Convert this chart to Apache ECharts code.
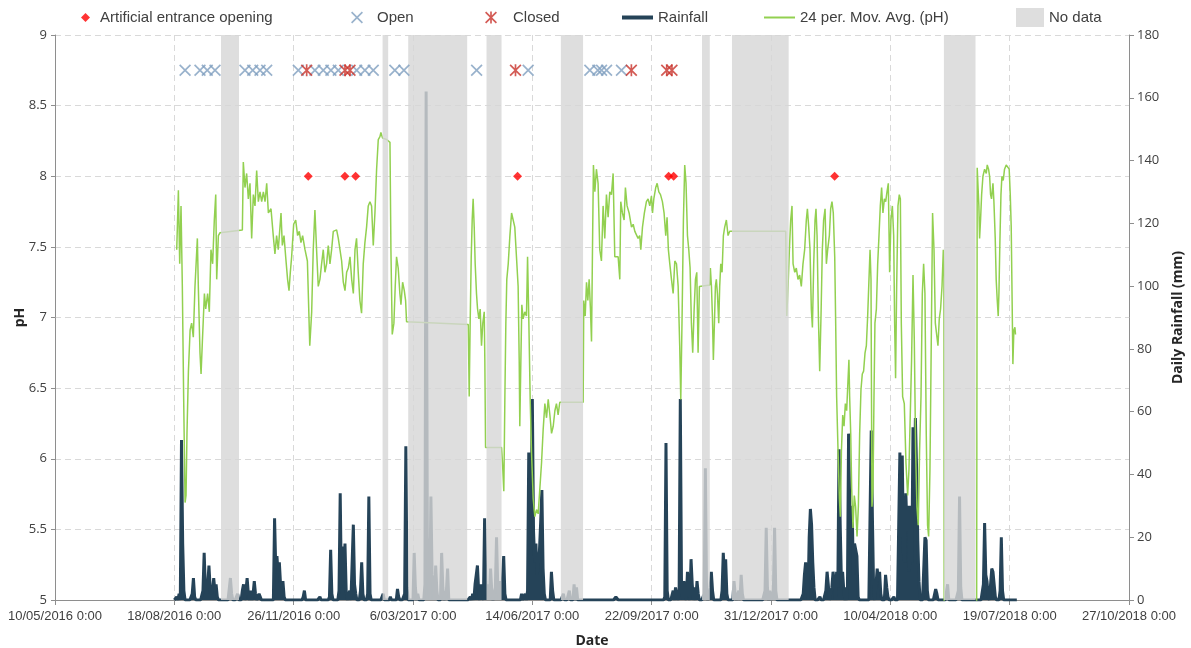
<!DOCTYPE html>
<html>
<head>
<meta charset="utf-8">
<title>pH and daily rainfall</title>
<script src="https://cdn.jsdelivr.net/npm/echarts@6.0.0/dist/echarts.min.js"></script>
<style>
  html, body { margin: 0; padding: 0; background: #fff; }
  #chart { width: 1191px; height: 648px; }
</style>
</head>
<body>
<div id="chart"></div>
<script>
// x values are days counted from 10/05/2016 0:00
const xTickLabels = ['10/05/2016 0:00', '18/08/2016 0:00', '26/11/2016 0:00', '6/03/2017 0:00',
  '14/06/2017 0:00', '22/09/2017 0:00', '31/12/2017 0:00', '10/04/2018 0:00',
  '19/07/2018 0:00', '27/10/2018 0:00'];

// 24 per. moving average of pH, [day, pH]
const phPoints = [
  [102.0,7.48],[103.4,7.90],[104.5,7.38],[105.6,7.79],[106.7,7.22],[107.8,6.44],[109.0,5.69],[109.8,5.74],
  [110.6,6.18],[111.8,6.62],[113.2,6.91],[114.5,6.96],[115.9,6.86],[117.3,7.22],[119.3,7.56],[120.1,7.22],
  [121.5,6.75],[122.4,6.60],[123.5,6.83],[125.2,7.17],[126.3,7.06],[127.9,7.17],[129.3,7.04],[130.7,7.48],
  [132.1,7.38],[133.5,7.69],[134.7,7.87],[135.5,7.27],[136.9,7.58],[138.3,7.60],
  [157.0,7.62],[157.8,8.10],[159.2,7.92],[160.6,8.02],[162.0,7.84],[163.4,7.95],[164.8,7.56],[166.2,7.87],
  [167.6,7.79],[169.0,8.04],[170.4,7.82],[171.8,7.89],[173.2,7.82],[174.6,7.89],[176.0,7.82],[177.4,7.95],
  [178.8,7.74],[181.0,7.77],[182.9,7.58],[184.3,7.45],[185.7,7.58],[187.1,7.48],[189.4,7.74],[190.5,7.51],
  [191.9,7.58],[193.3,7.43],[194.9,7.27],[196.1,7.19],[197.2,7.32],[198.3,7.43],[200.0,7.66],[201.7,7.69],
  [203.3,7.58],[204.7,7.61],[206.1,7.53],[207.5,7.58],[209.5,7.48],[211.5,7.40],[213.5,6.80],
  [215.1,7.04],[216.4,7.48],[217.8,7.76],[219.2,7.48],[220.6,7.22],[222.0,7.27],[223.4,7.38],[224.8,7.48],
  [226.2,7.32],[227.6,7.38],[229.0,7.51],[230.4,7.38],[231.8,7.48],[233.2,7.61],[234.6,7.62],[236.0,7.62],
  [237.4,7.56],[238.8,7.48],[240.2,7.40],[241.6,7.25],[243.0,7.19],[244.4,7.32],[245.8,7.35],[247.2,7.43],
  [248.6,7.27],[250.0,7.17],[251.4,7.48],[252.7,7.56],[254.1,7.32],[255.5,7.12],[256.9,7.03],[258.3,7.38],
  [259.7,7.53],[261.1,7.64],[262.5,7.79],[263.9,7.82],[265.3,7.79],[266.7,7.51],[268.1,7.74],[269.5,8.05],
  [270.9,8.26],[272.3,8.28],[273.1,8.31],[274.5,8.27],[277.9,8.26],[280.7,8.24],[281.5,7.48],[282.6,6.88],
  [284.0,6.96],[285.1,7.22],[286.2,7.43],[287.6,7.35],[289.0,7.17],[289.9,7.09],[291.3,7.25],[292.7,7.19],
  [293.8,7.12],[294.6,6.97],
  [346.3,6.95],[347.1,6.44],[347.9,6.96],[348.8,7.43],[349.6,7.69],[350.4,7.84],[351.3,7.64],[352.1,7.38],
  [353.2,7.17],[354.1,7.06],[355.2,6.99],[356.3,7.06],[357.4,6.80],[358.5,6.96],[359.7,7.04],[360.2,6.70],
  [360.8,6.08],
  [374.2,6.08],[375.0,5.97],[376.1,5.77],[377.0,6.44],[377.8,6.96],[378.6,7.27],[379.8,7.38],[381.2,7.58],
  [382.6,7.74],[383.9,7.74],[385.3,7.64],[386.7,7.43],[388.1,7.22],[389.0,6.70],[389.5,6.23],[390.4,6.70],
  [391.2,7.09],[392.3,6.99],[393.7,7.04],[395.1,7.01],[396.0,7.43],[397.1,6.96],[398.2,6.42],[399.3,6.05],
  [400.7,5.72],[402.1,5.59],[403.5,5.64],[404.9,5.61],[406.3,5.79],[407.7,5.97],[409.1,6.21],[410.5,6.39],
  [411.9,6.29],[413.3,6.42],[414.7,6.31],[416.1,6.18],[417.5,6.23],[418.9,6.34],[420.2,6.39],[421.6,6.31],
  [423.0,6.40],
  [442.6,6.40],[443.1,7.12],[444.3,7.01],[445.4,7.25],[446.5,7.12],[447.6,7.27],[448.7,7.06],[449.6,6.83],
  [450.4,7.48],[451.2,8.08],[452.4,7.89],[453.7,8.05],[455.1,7.95],[456.5,7.48],[457.9,7.40],[459.3,7.79],
  [460.7,7.56],[462.1,7.87],[463.5,7.71],[464.9,7.89],[466.3,7.87],[467.7,8.02],[469.1,7.43],[470.5,7.43],
  [471.9,7.43],[473.3,7.27],[474.1,7.82],[475.5,7.74],[476.9,7.69],[478.0,7.92],[479.4,7.79],[481.1,7.74],
  [483.1,7.64],[484.5,7.66],[485.9,7.61],[487.3,7.61],[488.6,7.56],[490.0,7.58],[490.9,7.48],[492.3,7.64],
  [493.9,7.74],[495.6,7.82],[497.0,7.84],[498.4,7.79],[499.8,7.86],[500.7,7.74],[501.8,7.84],[503.4,7.92],
  [504.6,7.95],[506.0,7.89],[507.4,7.87],[509.0,7.82],[510.4,7.74],[511.8,7.58],[512.9,7.71],[514.0,7.48],
  [515.2,7.38],[516.6,7.27],[518.0,7.17],[519.4,7.40],[520.8,7.38],[522.2,7.22],[523.5,6.80],[524.4,6.42],
  [525.5,7.01],[526.6,7.69],[527.7,8.08],[528.8,7.95],[530.0,7.58],[531.1,7.48],[532.2,7.35],[533.3,6.96],
  [534.4,6.75],[535.6,7.06],[536.7,7.27],[537.8,7.32],[538.9,6.75],[540.0,7.22],[541.1,7.23],
  [548.7,7.23],[549.2,7.35],[550.1,7.22],[550.9,7.01],[551.7,6.70],[552.6,6.96],[553.4,7.22],[554.2,7.27],
  [555.1,7.17],[556.2,6.96],[557.0,7.22],[557.9,7.38],[559.0,7.32],[560.1,7.58],[561.2,7.64],[562.6,7.69],
  [564.0,7.58],[565.4,7.61],[566.8,7.60],
  [612.3,7.61],[613.2,7.01],[614.3,7.22],[615.4,7.48],[616.5,7.69],[617.6,7.79],[618.5,7.38],[619.9,7.32],
  [621.2,7.35],[622.6,7.27],[624.0,7.30],[625.4,7.22],[626.8,7.38],[628.2,7.48],[629.6,7.69],[630.5,7.77],
  [631.6,7.64],[632.7,7.48],[633.8,7.06],[634.7,6.93],[635.8,7.38],[636.9,7.69],[637.7,7.77],[638.6,7.58],
  [639.7,7.01],[640.8,6.62],[641.9,7.01],[643.0,7.48],[644.1,7.69],[645.3,7.77],[646.4,7.38],[647.5,7.48],
  [648.9,7.58],[650.0,7.77],[651.1,7.82],[652.2,7.74],[653.4,7.43],[654.2,6.96],[655.0,6.44],[656.2,6.05],
  [657.3,5.72],[658.1,5.59],[659.0,6.05],[660.1,6.31],[661.2,6.23],[662.3,6.39],[663.4,6.34],[664.5,6.55],
  [665.3,6.70],[665.9,6.44],[666.8,6.18],[667.6,5.79],[668.7,5.51],[669.8,5.74],[670.9,5.66],[672.1,5.45],
  [673.2,5.66],[674.3,6.18],[675.4,6.49],[676.5,6.60],[677.6,6.62],[678.8,6.75],[679.9,6.80],[681.0,7.01],
  [682.1,7.27],[683.0,7.48],[683.8,7.27],[684.6,5.66],[685.5,5.79],[686.3,6.44],[687.1,6.96],[688.3,7.06],
  [689.4,7.38],[690.5,7.58],[691.6,7.79],[692.7,7.92],[693.8,7.74],[695.0,7.84],[696.1,7.82],[697.2,7.89],
  [698.3,7.95],[699.4,7.32],[700.5,7.69],[701.7,7.79],[702.8,7.58],[703.6,6.96],[704.4,6.57],[705.3,7.22],
  [706.4,7.79],[707.5,7.87],[708.4,7.84],[709.2,6.96],[710.3,6.44],[711.7,6.39],[713.1,5.97],[714.5,5.74],
  [715.6,5.92],[716.7,6.31],[717.8,6.70],[719.0,7.30],[720.1,6.83],[721.2,6.05],[722.3,5.66],[723.4,5.53],
  [724.5,6.05],[725.7,6.44],[726.8,7.17],[727.9,7.38],[729.0,7.17],[730.1,6.18],[731.2,5.53],[732.1,5.45],
  [733.2,5.92],[734.3,6.83],[735.4,7.74],[736.6,7.48],[737.7,6.96],[738.8,6.88],[739.9,6.80],[741.0,6.99],
  [742.1,7.06],[743.3,7.22],[744.4,7.48],[744.9,7.35],[745.5,0],[771.6,0],
  [772.8,8.06],[773.4,8.05],[774.2,7.79],[774.8,7.56],[775.6,7.69],[776.5,7.87],[777.6,8.00],[779.0,8.05],
  [780.4,8.02],[781.2,8.08],[782.3,8.05],[783.2,8.00],[784.0,7.87],[784.8,7.84],[786.0,7.95],[786.8,7.82],
  [787.9,7.56],[788.7,7.27],[789.6,7.12],[790.4,7.01],[791.0,7.17],[791.8,7.53],[792.7,7.87],[793.5,8.00],
  [794.6,7.97],[795.7,8.05],[797.1,8.08],[798.5,8.09],[799.6,8.05],[800.5,7.87],[801.3,7.64],[802.1,7.09],
  [802.7,6.67],[803.5,6.91],[804.4,6.93],[804.9,6.88]
];

// daily rainfall (mm); days not listed had no rain
const rainFirstDay = 100;
const rainLastDay = 806;
const rainDays = [102,104,106,107,108,115,116,117,124,125,126,127,128,129,130,131,132,133,134,135,136,
  147,148,153,157,158,160,161,162,164,166,167,168,171,172,184,185,186,187,188,189,190,191,192,208,209,
  222,230,231,232,238,239,240,241,242,243,244,247,250,251,252,256,257,258,262,263,264,275,281,287,288,
  293,294,295,301,302,304,310,311,312,313,315,316,317,319,320,324,325,328,329,
  348,350,352,353,354,355,357,358,360,361,363,365,366,369,370,371,373,376,377,391,394,
  396,397,398,399,400,401,402,403,404,405,406,407,408,409,410,416,417,426,431,435,437,470,471,
  511,512,513,518,520,521,523,524,525,527,528,530,531,533,534,536,538,539,544,545,546,549,550,551,
  559,560,561,562,563,569,570,573,575,576,595,596,597,599,602,603,604,
  627,628,629,630,632,633,634,635,636,641,646,647,648,651,652,653,655,656,657,658,659,660,661,663,
  665,666,667,668,669,670,671,672,673,684,685,686,689,690,691,692,696,697,698,703,
  708,709,710,711,712,713,714,715,716,717,718,719,720,721,722,723,724,729,730,731,738,739,
  748,757,758,759,778,779,780,781,782,785,786,787,788,792,793,794];
const rainMm = [1,2,51,18,3,2,7,1,3,15,4,2,5,11,4,2,3,7,3,5,1,
  7,2,2,3,5,3,7,2,3,2,6,2,2,1,26,10,14,8,12,5,4,6,1,1,3,
  1,1,16,2,3,34,4,17,6,18,3,3,24,5,2,3,12,2,2,33,2,2,1,3.5,1,
  2,49,4,15,4,2,5,162,20,8,33,8,5,11,3,15,4,3,10,
  1,2,5,8,11,3,5,2,26,6,5,10,3,4,20,5,6,14,2,2,2,
  3,47,28,30,64,22,12,18,8,11,16,25,35,10,2,9,3,2,3,5,4,1,1,
  1,50,3,3,4,2,2,64,5,6,2,9,4,13,5,4,6,2,2,42,3,4,9,3,
  3,15,8,13,2,6,2,3,8,2,3,23,4,3,3,23,3,
  2,8,12,6,20,29,24,12,4,1,3,9,5,4,9,6,9,4,48,24,6,9,3,4,
  53,30,20,30,8,18,18,14,1,54,26,3,10,6,9,2,8,4,1,1,
  47,20,46,15,12,34,22,30,9,30,12,55,30,58,42,19,6,20,19,3,3.5,2,
  5,3,33,4,5,24.5,8,6,1,10,9,9,1,3,20,3];

// no-data periods, start and end day
const noDataStart = [139.1, 274.5, 296.0, 361.6, 423.9, 542.2, 567.3, 744.9];
const noDataEnd = [154.2, 279.2, 345.4, 374.2, 442.5, 548.7, 614.8, 771.4];

// entrance events
const openDays = [109.0, 121.5, 127.6, 134.1, 159.2, 165.7, 171.8, 177.4, 203.9, 217.8, 224.8, 231.2,
  237.4, 252.8, 259.7, 266.7, 284.8, 292.4, 353.3, 396.5, 448.2, 454.9, 458.0, 462.2, 474.7];
const closedDays = [210.9, 243.0, 247.2, 385.9, 483.0, 512.6, 517.0];
const openingDays = [212.2, 242.9, 251.9, 387.6, 514.2, 518.4, 653.3];
const eventLevel = 8.75;
const openingLevel = 8;

const rainByDay = {};
rainDays.forEach((d, i) => { rainByDay[d] = rainMm[i]; });
const rainSeries = [];
for (let d = rainFirstDay; d <= rainLastDay; d++) {
  rainSeries.push([d, rainByDay[d] || 0]);
}

const xPath = 'path://M1,0L5,4L9,0L10,1L6,5L10,9L9,10L5,6L1,10L0,9L4,5L0,1Z';
const starPath = 'path://M1,0L5,4L9,0L10,1L6,5L10,9L9,10L5,6L1,10L0,9L4,5L0,1ZM4.3,0L5.7,0L5.7,10L4.3,10Z';

const textColor = '#404040';
const axisColor = '#8e8e8e';

function legendAt(left, top, name, icon, w, h, gap) {
  return {
    left: left, top: top, padding: 0, selectedMode: false,
    itemWidth: w, itemHeight: h, symbolKeepAspect: false,
    textStyle: {
      fontFamily: 'Liberation Sans', fontSize: 15, color: textColor,
      padding: [0, 0, 0, gap]
    },
    data: [{ name: name, icon: icon }]
  };
}

const chart = echarts.init(document.getElementById('chart'));

chart.setOption({
  animation: false,
  backgroundColor: '#fff',
  grid: { left: 55, right: 62, top: 35, bottom: 48, containLabel: false, outerBoundsMode: 'none' },
  legend: [
    legendAt(81, 10, 'Artificial entrance opening', 'diamond', 9, 9, 5),
    legendAt(351, 10, 'Open', xPath, 12, 12, 9),
    legendAt(485, 10, 'Closed', starPath, 12, 12, 11),
    legendAt(622, 10, 'Rainfall', 'rect', 31, 4, 0),
    legendAt(764, 10, '24 per. Mov. Avg. (pH)', 'rect', 31, 2, 0),
    legendAt(1016, 8, 'No data', 'rect', 28, 19, 0)
  ],
  xAxis: {
    type: 'value', min: 0, max: 900, interval: 100,
    name: 'Date', nameLocation: 'middle', nameGap: 34,
    nameTextStyle: { fontFamily: 'Open Sans', fontWeight: 'bold', fontSize: 14, color: '#262626' },
    axisLine: { lineStyle: { color: axisColor } },
    axisTick: { show: true, length: 5, lineStyle: { color: axisColor } },
    axisLabel: {
      margin: 10, color: textColor, fontFamily: 'Liberation Sans', fontSize: 13,
      showMinLabel: true, showMaxLabel: true,
      formatter: (v) => xTickLabels[Math.round(v / 100)]
    },
    splitLine: { show: true, lineStyle: { color: '#d9d9d9', type: [6, 4] } }
  },
  yAxis: [
    {
      type: 'value', min: 5, max: 9, interval: 0.5,
      name: 'pH', nameLocation: 'middle', nameGap: 28, nameRotate: 90, nameMoveOverlap: false,
      nameTextStyle: { fontFamily: 'Open Sans', fontWeight: 'bold', fontSize: 14, color: '#262626' },
      axisLine: { show: true, lineStyle: { color: axisColor } },
      axisTick: { show: true, length: 4, lineStyle: { color: axisColor } },
      axisLabel: { margin: 8, color: textColor, fontFamily: 'Open Sans', fontSize: 13 },
      splitLine: { show: true, lineStyle: { color: '#d9d9d9', type: [6, 4] } }
    },
    {
      type: 'value', min: 0, max: 180, interval: 20, position: 'right',
      name: 'Daily Rainfall (mm)', nameLocation: 'middle', nameGap: 42, nameRotate: 90,
      nameTextStyle: { fontFamily: 'Open Sans', fontWeight: 'bold', fontSize: 14, color: '#262626' },
      axisLine: { show: true, lineStyle: { color: axisColor } },
      axisTick: { show: true, length: 5, lineStyle: { color: axisColor } },
      axisLabel: { margin: 8, color: textColor, fontFamily: 'Open Sans', fontSize: 13 },
      splitLine: { show: false }
    }
  ],
  series: [
    {
      name: 'Rainfall', type: 'line', yAxisIndex: 1, z: 2,
      data: rainSeries, showSymbol: false, symbol: 'none',
      lineStyle: { color: '#254358', width: 3 },
      itemStyle: { color: '#254358' },
      areaStyle: { color: '#254358', opacity: 1 }
    },
    {
      name: '24 per. Mov. Avg. (pH)', type: 'line', yAxisIndex: 0, z: 2,
      data: phPoints, showSymbol: false, symbol: 'none', clip: true,
      lineStyle: { color: '#92d050', width: 1.5 },
      itemStyle: { color: '#92d050' }
    },
    {
      name: 'No data', type: 'custom', yAxisIndex: 0, z: 3,
      data: noDataStart.map((s, i) => [s, noDataEnd[i]]),
      encode: { x: [0, 1] },
      itemStyle: { color: 'rgba(214,214,214,0.81)' },
      renderItem: (params, api) => {
        const p0 = api.coord([api.value(0), 9]);
        const p1 = api.coord([api.value(1), 5]);
        return {
          type: 'rect',
          shape: { x: p0[0], y: p0[1], width: p1[0] - p0[0], height: p1[1] - p0[1] },
          style: api.style()
        };
      }
    },
    {
      name: 'Open', type: 'scatter', yAxisIndex: 0, z: 4,
      symbol: xPath, symbolSize: 12,
      itemStyle: { color: '#7f9fbf' },
      data: openDays.map((d) => [d, eventLevel])
    },
    {
      name: 'Closed', type: 'scatter', yAxisIndex: 0, z: 5,
      symbol: starPath, symbolSize: 12,
      itemStyle: { color: '#c8322b' },
      data: closedDays.map((d) => [d, eventLevel])
    },
    {
      name: 'Artificial entrance opening', type: 'scatter', yAxisIndex: 0, z: 5,
      symbol: 'diamond', symbolSize: 9,
      itemStyle: { color: '#ff0000' },
      data: openingDays.map((d) => [d, openingLevel])
    }
  ]
});
</script>
</body>
</html>
